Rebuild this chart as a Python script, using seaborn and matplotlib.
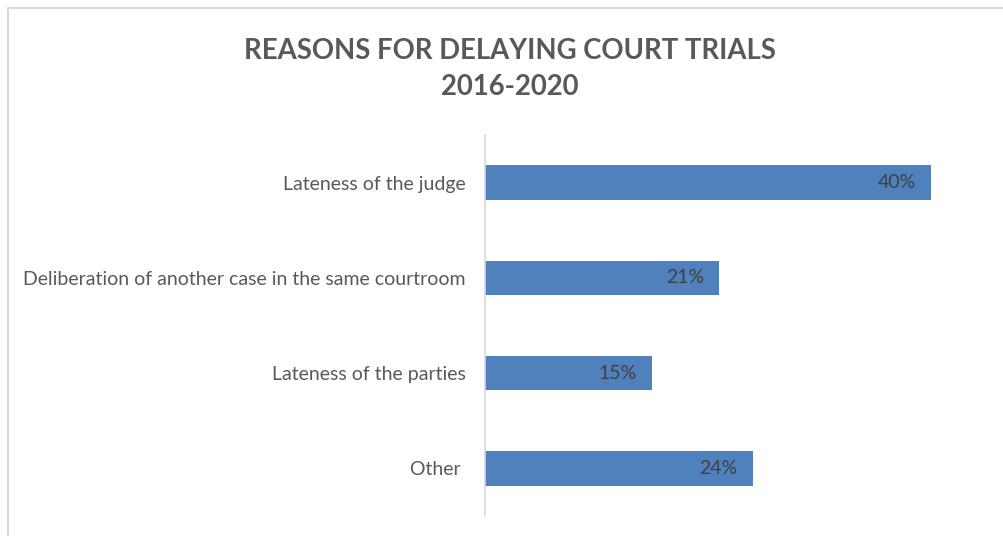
import matplotlib
matplotlib.use("Agg")
import matplotlib.pyplot as plt
import seaborn as sns
import pandas as pd
from matplotlib.lines import Line2D

categories = [
    "Lateness of the judge",
    "Deliberation of another case in the same courtroom",
    "Lateness of the parties",
    "Other ",
]
values = [40, 21, 15, 24]
value_labels = ["40%", "21%", "15%", "24%"]

title = "REASONS FOR DELAYING COURT TRIALS\n2016-2020"

sns.set_theme(style="white")
plt.rcParams["font.family"] = ["Lato", "DejaVu Sans"]

bar_color = "#4F81BD"
text_gray = "#595959"
label_gray = "#404040"

df = pd.DataFrame({"reason": categories, "share": values})

fig = plt.figure(figsize=(10.04, 5.36), dpi=100)
ax = fig.add_axes([485 / 1004, 20 / 536, 502 / 1004, 381 / 536])

sns.barplot(data=df, y="reason", x="share", orient="h", color=bar_color,
            saturation=1, width=0.36, ax=ax, edgecolor="none")

ax.set_xlim(0, 45)
ax.set_xlabel("")
ax.set_ylabel("")
ax.set_xticks([])
for s in ["top", "right", "bottom"]:
    ax.spines[s].set_visible(False)
ax.spines["left"].set_color("#d9d9d9")
ax.spines["left"].set_linewidth(1.2)
ax.tick_params(axis="y", length=0, pad=14, labelsize=14, labelcolor=text_gray)

for i, (v, lab) in enumerate(zip(values, value_labels)):
    ax.annotate(lab, xy=(v, i), xytext=(-11, 0), textcoords="offset points",
                ha="right", va="center", fontsize=14, color=label_gray)

fig.text(510 / 1004, 1 - 69 / 536, title, ha="center", va="center",
         fontsize=19.8, fontweight="bold", color=text_gray, linespacing=1.5)

# chart frame (top and left edges)
fig.add_artist(Line2D([8 / 1004, 8 / 1004], [0, 1 - 7.5 / 536],
                      transform=fig.transFigure, color="#d9d9d9", lw=1.5))
fig.add_artist(Line2D([8 / 1004, 1], [1 - 7.5 / 536, 1 - 7.5 / 536],
                      transform=fig.transFigure, color="#d9d9d9", lw=1.5))

fig.savefig("out.png", dpi=100)
